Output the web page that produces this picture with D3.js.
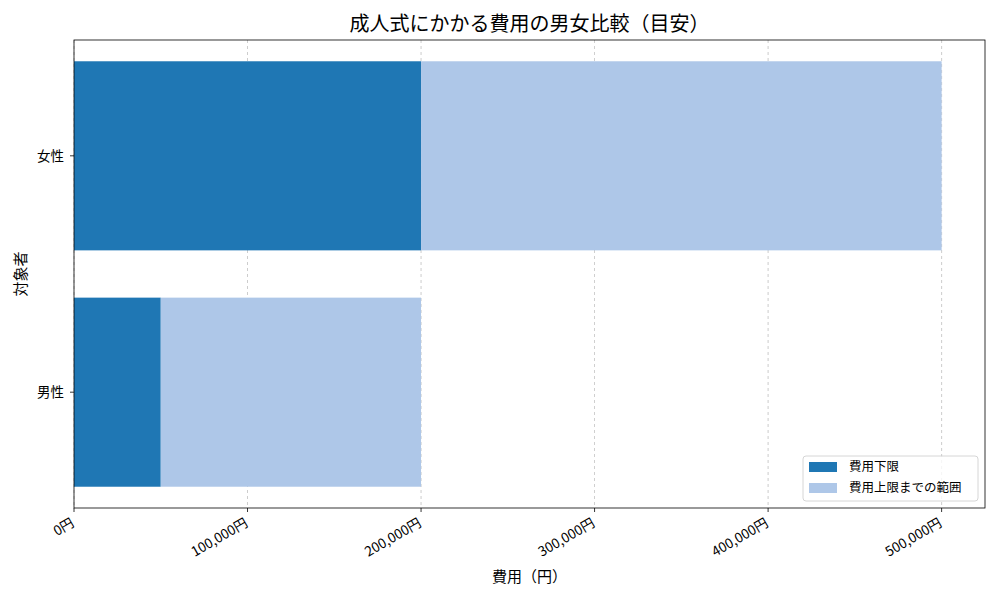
<!DOCTYPE html>
<html><head><meta charset="utf-8">
<script src="https://cdn.jsdelivr.net/npm/d3@7"></script>
<style>body{margin:0;background:#fff}svg{font-family:"Noto Sans CJK JP","Noto Sans",sans-serif}</style>
</head><body>
<svg id="c" width="1000" height="600"></svg>
<script>
const categories = ["男性", "女性"];
const lowerCost = [50000, 200000];
const rangeToUpper = [150000, 300000];
const xTicks = [0, 100000, 200000, 300000, 400000, 500000];
const seriesNames = ["費用下限", "費用上限までの範囲"];
const colors = ["#1f77b4", "#aec7e8"];

const svg = d3.select("#c");
const L = 74, R = 985, T = 40, B = 508;
const x = d3.scaleLinear().domain([0, 525000]).range([L, R]);
const y = d3.scaleLinear().domain([-0.49, 1.49]).range([B, T]);
const bh = 0.8;

// grid
svg.append("g").selectAll("line").data(xTicks).join("line")
  .attr("x1", d => x(d)).attr("x2", d => x(d)).attr("y1", T).attr("y2", B)
  .attr("stroke", "#b0b0b0").attr("stroke-width", 0.8).attr("stroke-dasharray", "3,3").attr("opacity", 0.8);

// bars
const g = svg.append("g");
categories.forEach((c, i) => {
  g.append("rect").attr("x", x(0)).attr("width", x(lowerCost[i]) - x(0))
    .attr("y", y(i + bh / 2)).attr("height", y(i - bh / 2) - y(i + bh / 2)).attr("fill", colors[0]);
  g.append("rect").attr("x", x(lowerCost[i])).attr("width", x(lowerCost[i] + rangeToUpper[i]) - x(lowerCost[i]))
    .attr("y", y(i + bh / 2)).attr("height", y(i - bh / 2) - y(i + bh / 2)).attr("fill", colors[1]);
});

// frame
svg.append("rect").attr("x", L).attr("y", T).attr("width", R - L).attr("height", B - T)
  .attr("fill", "none").attr("stroke", "#000").attr("stroke-width", 0.8);

// x axis
const fmt = d3.format(",");
const xa = svg.append("g");
xTicks.forEach(t => {
  xa.append("line").attr("x1", x(t)).attr("x2", x(t)).attr("y1", B).attr("y2", B + 4).attr("stroke", "#000").attr("stroke-width", 0.8);
  xa.append("text").attr("transform", `translate(${x(t) - 4},${B + 9}) rotate(-30)`)
    .attr("text-anchor", "end").attr("dy", "0.75em").attr("font-size", 13.5).text(fmt(t) + "円");
});
// y axis
categories.forEach((c, i) => {
  svg.append("line").attr("x1", L - 4).attr("x2", L).attr("y1", y(i)).attr("y2", y(i)).attr("stroke", "#000").attr("stroke-width", 0.8);
  svg.append("text").attr("x", L - 10).attr("y", y(i)).attr("dy", "0.35em").attr("text-anchor", "end").attr("font-size", 13.5).text(c);
});

// labels
svg.append("text").attr("x", (L + R) / 2).attr("y", 31).attr("text-anchor", "middle").attr("font-size", 20).text("成人式にかかる費用の男女比較（目安）");
svg.append("text").attr("x", (L + R) / 2).attr("y", 582).attr("text-anchor", "middle").attr("font-size", 15).text("費用（円）");
svg.append("text").attr("transform", `translate(26,${(T + B) / 2}) rotate(-90)`).attr("text-anchor", "middle").attr("font-size", 15).text("対象者");

// legend
const lg = svg.append("g");
lg.append("rect").attr("x", 803).attr("y", 456).attr("width", 175).attr("height", 45).attr("rx", 3)
  .attr("fill", "#fff").attr("fill-opacity", 0.8).attr("stroke", "#ccc").attr("stroke-width", 0.8);
seriesNames.forEach((s, i) => {
  lg.append("rect").attr("x", 809).attr("y", 462 + i * 21).attr("width", 28).attr("height", 10).attr("fill", colors[i]);
  lg.append("text").attr("x", 849).attr("y", 467 + i * 21).attr("dy", "0.35em").attr("font-size", 12.5).text(s);
});
</script>
</body></html>
